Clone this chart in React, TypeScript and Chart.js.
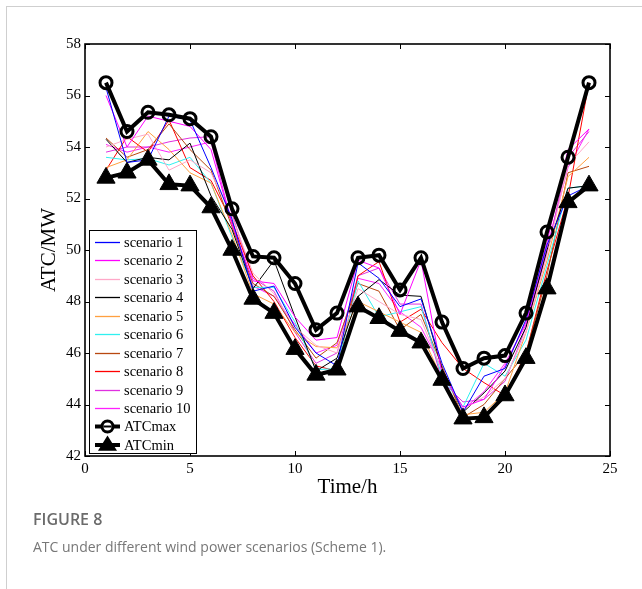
import React, { useEffect, useRef } from "react";
import { Chart, registerables } from "chart.js";

Chart.register(...registerables);

// Hour of day (x values)
const hours = [1, 2, 3, 4, 5, 6, 7, 8, 9, 10, 11, 12, 13, 14, 15, 16, 17, 18, 19, 20, 21, 22, 23, 24];

// Envelope of available transfer capability, MW
const atcMax = [56.5, 54.6, 55.35, 55.25, 55.1, 54.4, 51.6, 49.75, 49.7, 48.7, 46.9, 47.55, 49.7, 49.8, 48.45, 49.7, 47.2, 45.4, 45.8, 45.9, 47.55, 50.7, 53.6, 56.5];
const atcMin = [52.8, 53.0, 53.5, 52.55, 52.5, 51.65, 50.0, 48.1, 47.55, 46.15, 45.15, 45.35, 47.8, 47.35, 46.85, 46.4, 44.95, 43.45, 43.5, 44.35, 45.8, 48.5, 51.85, 52.5];

// ATC for each wind power scenario, MW
const scenario1 = [56.3, 53.4, 53.5, 55.2, 55.05, 53.2, 51.2, 48.4, 48.6, 47.0, 46.0, 45.5, 49.5, 48.9, 47.8, 48.1, 45.6, 43.7, 45.1, 45.4, 47.3, 50.2, 52.1, 52.5];
const scenario2 = [56.0, 54.0, 55.2, 55.0, 54.8, 53.9, 51.0, 48.8, 48.7, 47.4, 46.5, 46.6, 49.6, 49.3, 47.5, 49.6, 45.2, 43.9, 44.2, 45.5, 47.2, 50.3, 53.9, 54.7];
const scenario3 = [54.0, 54.3, 54.5, 53.1, 53.5, 53.0, 51.3, 49.1, 48.3, 47.0, 46.3, 46.0, 48.5, 48.0, 47.5, 47.3, 45.3, 43.8, 44.3, 45.0, 46.8, 49.8, 53.3, 54.2];
const scenario4 = [54.3, 53.4, 53.6, 53.5, 54.15, 52.1, 50.8, 48.5, 49.6, 47.4, 45.3, 45.8, 48.2, 48.85, 48.25, 48.2, 45.4, 43.7, 44.45, 45.3, 47.0, 50.0, 52.4, 52.5];
const scenario5 = [53.2, 53.5, 54.6, 53.9, 53.0, 52.6, 50.6, 48.3, 47.9, 46.8, 46.25, 46.2, 48.0, 47.6, 47.2, 46.8, 45.0, 43.6, 43.7, 44.45, 46.8, 49.6, 52.85, 53.6];
const scenario6 = [53.6, 53.5, 53.55, 53.3, 53.6, 52.6, 50.5, 48.55, 48.55, 47.2, 45.35, 45.4, 48.8, 47.4, 47.6, 47.8, 45.1, 43.9, 45.6, 45.1, 46.5, 49.4, 52.4, 52.5];
const scenario7 = [54.35, 53.6, 53.9, 54.9, 53.9, 53.1, 50.9, 48.7, 48.2, 46.9, 45.8, 46.4, 48.7, 48.4, 46.9, 47.5, 45.5, 43.5, 44.0, 45.0, 46.0, 49.0, 53.0, 53.25];
const scenario8 = [53.1, 54.4, 53.8, 55.05, 53.2, 52.7, 51.1, 49.0, 48.0, 46.6, 45.5, 45.3, 49.0, 49.55, 47.2, 47.7, 46.4, 45.4, 44.85, 44.35, 46.0, 49.2, 52.05, 56.5];
const scenario9 = [53.8, 54.0, 54.0, 54.2, 54.35, 54.4, 51.4, 48.9, 48.4, 46.8, 45.6, 46.0, 49.0, 49.3, 47.9, 47.9, 44.9, 44.1, 44.2, 44.9, 47.0, 49.9, 53.6, 54.6];
const scenario10 = [54.1, 53.8, 54.0, 53.8, 54.0, 54.2, 51.0, 48.6, 48.2, 47.1, 46.0, 46.3, 48.9, 48.7, 47.6, 47.0, 45.4, 43.8, 44.5, 45.6, 47.1, 50.1, 53.2, 54.7];

const scenarioSeries = [scenario1, scenario2, scenario3, scenario4, scenario5, scenario6, scenario7, scenario8, scenario9, scenario10];
const scenarioNames = ["scenario 1", "scenario 2", "scenario 3", "scenario 4", "scenario 5", "scenario 6", "scenario 7", "scenario 8", "scenario 9", "scenario 10"];
const scenarioColors = ["#0000ff", "#ff00ff", "#ffa8c8", "#000000", "#ffa040", "#30f0f0", "#b84810", "#ff0000", "#e030e0", "#ff20ff"];

// Axis ticks
const xTicks = [0, 5, 10, 15, 20, 25];
const yTicks = [42, 44, 46, 48, 50, 52, 54, 56, 58];

const SERIF = "'Liberation Serif', serif";

const toPoints = (vals: number[]) => hours.map((h, i) => ({ x: h, y: vals[i] }));

// Box frame with inward ticks on all four sides, plus the in-plot legend
const frameAndLegend = {
  id: "frameAndLegend",
  afterDraw(chart: any) {
    const { ctx, chartArea, scales } = chart;
    const { left, right, top, bottom } = chartArea;
    const xs = scales.x;
    const ys = scales.y;
    ctx.save();
    ctx.strokeStyle = "#000";
    ctx.lineWidth = 1;
    const tick = 5;
    ctx.beginPath();
    for (const v of xTicks) {
      const px = Math.round(xs.getPixelForValue(v)) + 0.5;
      ctx.moveTo(px, bottom);
      ctx.lineTo(px, bottom - tick);
      ctx.moveTo(px, top);
      ctx.lineTo(px, top + tick);
    }
    for (const v of yTicks) {
      const py = Math.round(ys.getPixelForValue(v)) + 0.5;
      ctx.moveTo(left, py);
      ctx.lineTo(left + tick, py);
      ctx.moveTo(right, py);
      ctx.lineTo(right - tick, py);
    }
    ctx.stroke();
    ctx.lineWidth = 1.6;
    ctx.strokeRect(left, top, right - left, bottom - top);

    // legend
    const bx = left + 4;
    const by = 230;
    const bw = 107;
    const bh = 223;
    ctx.fillStyle = "#fff";
    ctx.fillRect(bx, by, bw, bh);
    ctx.lineWidth = 1;
    ctx.strokeStyle = "#000";
    ctx.strokeRect(bx + 0.5, by + 0.5, bw, bh);
    const rowY0 = by + 11.5;
    const rowH = 18.5;
    const lx0 = bx + 6;
    const lx1 = bx + 31;
    const tx = bx + 35;
    ctx.font = `14.5px ${SERIF}`;
    ctx.textBaseline = "middle";
    ctx.textAlign = "left";
    scenarioNames.forEach((name, i) => {
      const yy = Math.round(rowY0 + i * rowH) + 0.5;
      ctx.strokeStyle = scenarioColors[i];
      ctx.lineWidth = 1.3;
      ctx.beginPath();
      ctx.moveTo(lx0, yy);
      ctx.lineTo(lx1, yy);
      ctx.stroke();
      ctx.fillStyle = "#000";
      ctx.fillText(name, tx, yy + 1);
    });
    const extra = ["ATCmax", "ATCmin"];
    extra.forEach((name, k) => {
      const yy = rowY0 + (10 + k) * rowH;
      const cx = (lx0 + lx1) / 2;
      ctx.strokeStyle = "#000";
      ctx.lineWidth = 4;
      ctx.beginPath();
      ctx.moveTo(lx0, yy);
      ctx.lineTo(lx1, yy);
      ctx.stroke();
      if (k === 0) {
        ctx.lineWidth = 3;
        ctx.beginPath();
        ctx.arc(cx, yy, 5.5, 0, Math.PI * 2);
        ctx.fillStyle = "#fff";
        ctx.fill();
        ctx.stroke();
        ctx.beginPath();
        ctx.moveTo(cx - 4, yy);
        ctx.lineTo(cx + 4, yy);
        ctx.lineWidth = 2;
        ctx.stroke();
      } else {
        const r = 9.5;
        ctx.fillStyle = "#000";
        ctx.beginPath();
        ctx.moveTo(cx, yy - r);
        ctx.lineTo(cx + r, yy + r * 0.6);
        ctx.lineTo(cx - r, yy + r * 0.6);
        ctx.closePath();
        ctx.fill();
      }
      ctx.fillStyle = "#000";
      ctx.fillText(name, tx, yy + 1);
    });
    ctx.restore();
  },
};

export default function App() {
  const canvasRef = useRef<HTMLCanvasElement | null>(null);

  useEffect(() => {
    const canvas = canvasRef.current;
    if (!canvas) return;

    const datasets: any[] = scenarioSeries.map((vals, i) => ({
      label: scenarioNames[i],
      data: toPoints(vals),
      borderColor: scenarioColors[i],
      borderWidth: 1,
      pointRadius: 0,
      tension: 0,
      order: 2,
    }));
    datasets.push({
      label: "ATCmax",
      data: toPoints(atcMax),
      borderColor: "#000",
      borderWidth: 4,
      pointStyle: "circle",
      pointRadius: 6,
      pointBorderWidth: 3,
      pointBorderColor: "#000",
      pointBackgroundColor: "rgba(0,0,0,0)",
      tension: 0,
      order: 0,
    });
    datasets.push({
      label: "ATCmin",
      data: toPoints(atcMin),
      borderColor: "#000",
      borderWidth: 4,
      pointStyle: "triangle",
      pointRadius: 10.5,
      pointBorderWidth: 1,
      pointBorderColor: "#000",
      pointBackgroundColor: "#000",
      tension: 0,
      order: 1,
    });

    const tickFont = { family: SERIF, size: 15 };
    const titleFont = { family: SERIF, size: 21 };

    const chart = new Chart(canvas, {
      type: "line",
      data: { datasets },
      options: {
        animation: false,
        responsive: false,
        devicePixelRatio: 1,
        layout: { padding: { left: 0, right: 32, top: 44, bottom: 83 } },
        plugins: { legend: { display: false }, tooltip: { enabled: false } },
        scales: {
          x: {
            type: "linear",
            min: 0,
            max: 25,
            afterBuildTicks: (s: any) => {
              s.ticks = xTicks.map((v) => ({ value: v }));
            },
            ticks: { color: "#000", font: tickFont, padding: 4, maxRotation: 0, autoSkip: false },
            grid: { display: false, drawTicks: false },
            border: { display: false },
            title: { display: true, text: "Time/h", color: "#000", font: titleFont, padding: { top: 0, bottom: 6 } },
            afterFit: (s: any) => {
              s.height = 50;
            },
          },
          y: {
            type: "linear",
            min: 42,
            max: 58,
            afterBuildTicks: (s: any) => {
              s.ticks = yTicks.map((v) => ({ value: v }));
            },
            ticks: { color: "#000", font: tickFont, padding: 4, autoSkip: false },
            grid: { display: false, drawTicks: false },
            border: { display: false },
            title: { display: true, text: "ATC/MW", color: "#000", font: titleFont, padding: { top: 37, bottom: 0 } },
            afterFit: (s: any) => {
              s.width = 85;
            },
          },
        },
      },
      plugins: [frameAndLegend],
    });

    return () => chart.destroy();
  }, []);

  return (
    <div style={{ position: "absolute", left: 0, top: 0, width: 642, height: 589, background: "#fff", overflow: "hidden" }}>
      <div style={{ position: "absolute", left: 6, top: 6, width: 636, height: 583, borderTop: "1px solid #cfcfcf", borderLeft: "1px solid #cfcfcf" }} />
      <canvas ref={canvasRef} width={642} height={589} style={{ position: "absolute", left: 0, top: 0 }} />
      <div style={{ position: "absolute", left: 33, top: 511, fontFamily: "'Open Sans', sans-serif", fontWeight: 600, fontSize: 16, lineHeight: "16px", color: "#6b6b6b", whiteSpace: "nowrap" }}>
        FIGURE 8
      </div>
      <div style={{ position: "absolute", left: 33, top: 540, fontFamily: "'Open Sans', sans-serif", fontSize: 14, lineHeight: "14px", color: "#777", whiteSpace: "nowrap" }}>
        ATC under different wind power scenarios (Scheme 1).
      </div>
    </div>
  );
}
